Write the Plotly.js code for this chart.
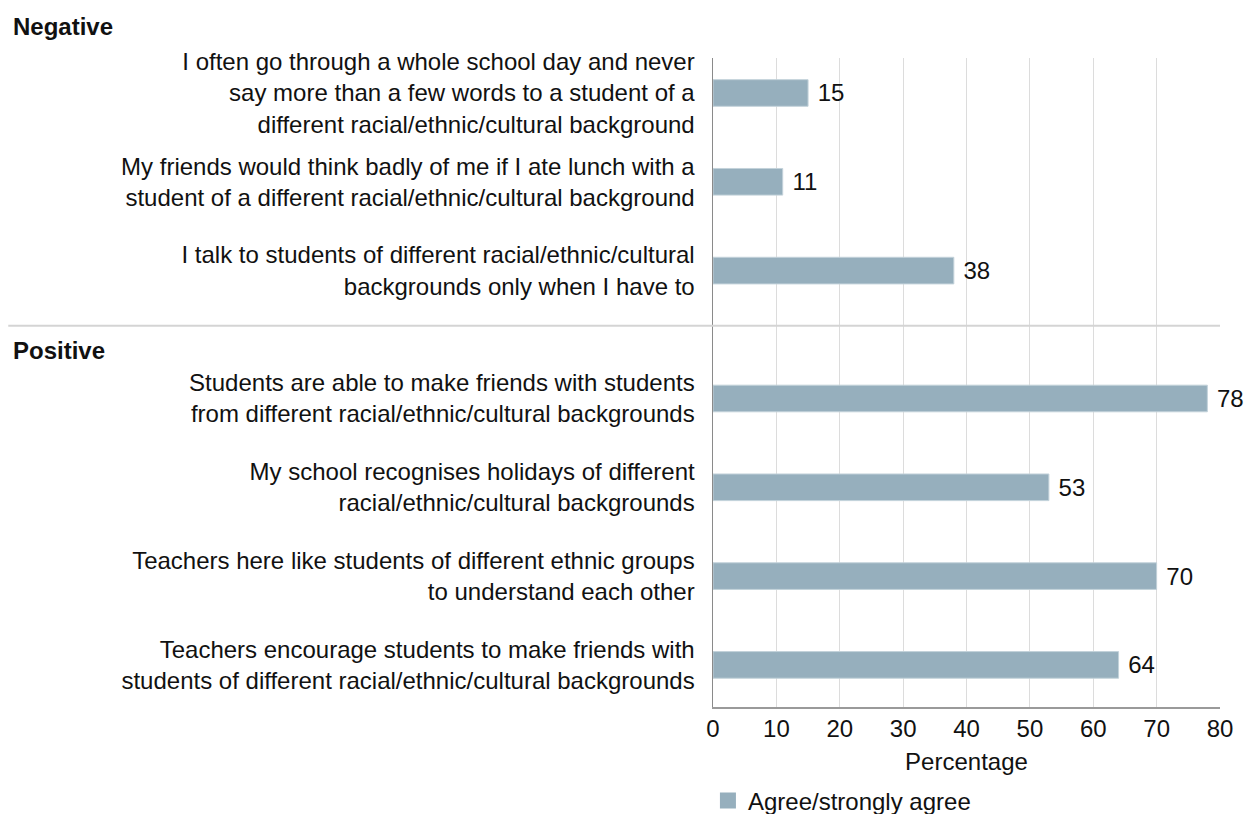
<!DOCTYPE html>
<html>
<head>
<meta charset="utf-8">
<script src="https://cdn.plot.ly/plotly-3.0.1.min.js"></script>
<style>html,body{margin:0;padding:0;background:#fff;}#chart{width:1248px;height:814px;}</style>
</head>
<body>
<div id="chart"></div>
<script>
const groups = ["Negative","Negative","Negative","Positive","Positive","Positive","Positive"];
const categories = [
  "I often go through a whole school day and never<br>say more than a few words to a student of a<br>different racial/ethnic/cultural background",
  "My friends would think badly of me if I ate lunch with a<br>student of a different racial/ethnic/cultural background",
  "I talk to students of different racial/ethnic/cultural<br>backgrounds only when I have to",
  "Students are able to make friends with students<br>from different racial/ethnic/cultural backgrounds",
  "My school recognises holidays of different<br>racial/ethnic/cultural backgrounds",
  "Teachers here like students of different ethnic groups<br>to understand each other",
  "Teachers encourage students to make friends with<br>students of different racial/ethnic/cultural backgrounds"
];
const values = [15, 11, 38, 78, 53, 70, 64];
const seriesName = "Agree/strongly agree";
const xTicks = [0, 10, 20, 30, 40, 50, 60, 70, 80];

const FONT = '"Liberation Sans", Arial, Helvetica, sans-serif';
const FS = 24;
const BAR_COLOR = '#96afbd';
const GAP = 0.44;
const ypos = categories.map((c, i) => i + (groups[i] === "Positive" ? GAP : 0));
const sepY = 2 + (1 + GAP) / 2 - 0.1;

const bars = {
  type: 'bar', orientation: 'h',
  x: values, y: ypos,
  width: 0.3,
  name: seriesName,
  showlegend: false,
  marker: {color: BAR_COLOR, line: {color: '#c3d2da', width: 1}},
  texttemplate: ' %{x}',
  textposition: 'outside',
  textfont: {family: FONT, size: FS, color: '#111'},
  constraintext: 'none',
  cliponaxis: false,
  hoverinfo: 'x+y'
};

// legend entry only (no marks drawn)
const legendEntry = {
  type: 'scatter', mode: 'markers',
  x: [null], y: [null],
  name: seriesName,
  marker: {symbol: 'square', size: 22, color: BAR_COLOR, line: {width: 0}},
  hoverinfo: 'skip'
};

const layout = {
  width: 1248, height: 814,
  margin: {l: 713, r: 28, t: 58, b: 107, autoexpand: false},
  paper_bgcolor: '#fff', plot_bgcolor: '#fff',
  font: {family: FONT, size: FS, color: '#111'},
  bargap: 0,
  xaxis: {
    range: [0, 80], tickvals: xTicks, ticktext: xTicks.map(String),
    showgrid: true, gridcolor: '#dcdcdc', gridwidth: 1,
    zeroline: false, showline: true, linecolor: '#9a9a9a', linewidth: 1.5,
    ticks: '', tickfont: {family: FONT, size: FS, color: '#111'},
    automargin: false,
    title: {text: 'Percentage', font: {family: FONT, size: FS, color: '#111'}, standoff: 12},
    fixedrange: true
  },
  yaxis: {
    range: [6.914, -0.394], tickvals: ypos, ticktext: categories,
    showgrid: false, zeroline: false, showline: true, linecolor: '#8a8a8a', linewidth: 1.5,
    ticks: '', ticklabelstandoff: 12, automargin: false,
    tickfont: {family: FONT, size: FS, color: '#111'},
    fixedrange: true
  },
  showlegend: true,
  legend: {orientation: 'h', x: -0.01, xanchor: 'left', y: -0.11, yanchor: 'top',
           font: {family: FONT, size: FS, color: '#111'}, bgcolor: 'rgba(0,0,0,0)'},
  shapes: [{
    type: 'line', xref: 'paper', yref: 'y',
    x0: -1.39, x1: 1, y0: sepY, y1: sepY,
    line: {color: '#d4d4d4', width: 2}
  }],
  annotations: [
    {text: '<b>Negative</b>', xref: 'paper', yref: 'paper', x: -1.385, y: 1.048,
     xanchor: 'left', yanchor: 'middle', showarrow: false, font: {family: FONT, size: FS, color: '#111'}},
    {text: '<b>Positive</b>', xref: 'paper', yref: 'paper', x: -1.385, y: 0.55,
     xanchor: 'left', yanchor: 'middle', showarrow: false, font: {family: FONT, size: FS, color: '#111'}}
  ]
};

Plotly.newPlot('chart', [bars, legendEntry], layout, {displayModeBar: false, staticPlot: true});
</script>
</body>
</html>
